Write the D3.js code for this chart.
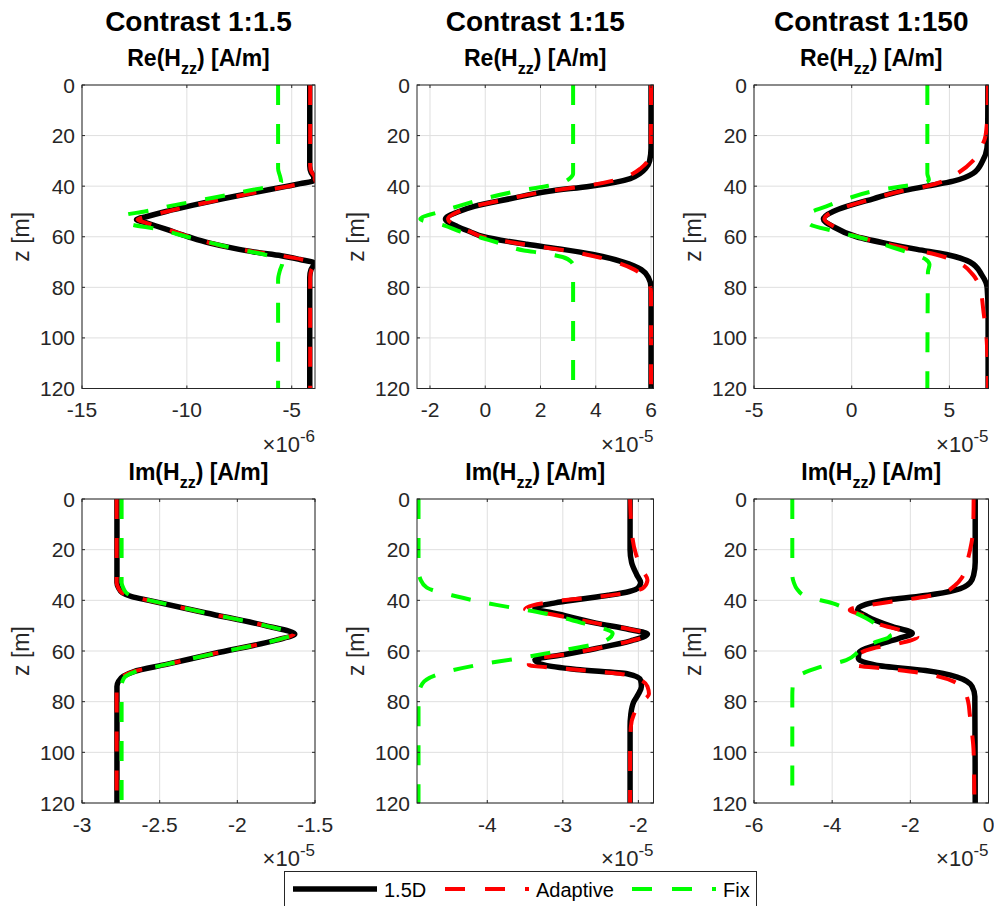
<!DOCTYPE html>
<html>
<head>
<meta charset="utf-8">
<script src="https://cdn.jsdelivr.net/npm/d3@7"></script>
<style>
  body { margin: 0; background: #fff; }
  svg { font-family: "Liberation Sans", Arial, Helvetica, sans-serif; }
</style>
</head>
<body>
<div id="chart"></div>
<script>
// -------------------------------------------------------------------------
// Data

const columnTitles = ['Contrast 1:1.5', 'Contrast 1:15', 'Contrast 1:150'];
const rowParts = ['Re', 'Im'];
const seriesNames = ['1.5D', 'Adaptive', 'Fix'];
const depthTicks = [0, 20, 40, 60, 80, 100, 120];

// one entry per panel, Re row first then Im row
const xLimits = [[-15, -3.89], [-2.47, 6.09], [-5, 7], [-3, -1.5], [-4.93, -1.8], [-6, 0]];
const xTicks = [[-15, -10, -5], [-2, 0, 2, 4, 6], [-5, 0, 5], [-3, -2.5, -2, -1.5], [-4, -3, -2], [-6, -4, -2, 0]];
const xExponents = [-6, -5, -5, -5, -5, -5];

// curves as [z (m), value in units of 10^exponent]
const reA_15d = [[0, -4.14], [32, -4.14], [34.5, -4.08], [36.5, -3.95], [37.8, -3.95], [39, -4.6], [40, -5.2], [42.5, -6.8], [45, -8.3], [47.5, -9.7], [50, -11.0], [52, -11.9], [53.2, -12.4], [54.5, -11.93], [57, -11.0], [60, -9.93], [62.5, -8.9], [64.5, -7.8], [66, -6.8], [67.5, -5.5], [69, -4.6], [70.3, -3.95], [71.5, -3.98], [73, -4.08], [76, -4.14], [120, -4.14]];
const reA_adaptive = [[0, -4.12], [32, -4.12], [34.5, -4.05], [36.5, -3.9], [37.8, -3.92], [39, -4.5], [40, -5.15], [42.5, -6.75], [45, -8.25], [47.5, -9.65], [50, -10.95], [52, -11.9], [53.2, -12.35], [54.5, -11.95], [57, -10.95], [60, -9.9], [62.5, -8.85], [64.5, -7.8], [66, -6.75], [67.5, -5.5], [69, -4.5], [70.3, -3.9], [71.5, -3.95], [73, -4.06], [76, -4.12], [120, -4.12]];
const reA_fix = [[0, -5.65], [33, -5.65], [36, -5.56], [38.5, -5.5], [40, -6.0], [42, -7.2], [45, -9.0], [48, -10.9], [50, -12.0], [51.6, -13.0], [53, -12.9], [54.8, -12.75], [57, -11.4], [60, -10.0], [62.5, -8.8], [64.5, -7.8], [66, -6.9], [67.5, -6.1], [69, -5.6], [70.5, -5.45], [73, -5.55], [77, -5.65], [120, -5.65]];

const reB_15d = [[0, 6.0], [25, 6.0], [30, 5.95], [33, 5.8], [35, 5.6], [37, 5.25], [38.5, 4.7], [40, 3.8], [42, 2.3], [45, 0.9], [48, -0.4], [50, -0.95], [53, -1.44], [56, -1.0], [58, -0.55], [60, -0.06], [63, 1.5], [65, 2.8], [67, 3.9], [70, 5.0], [73, 5.65], [76, 5.9], [80, 6.0], [120, 6.0]];
const reB_adaptive = [[0, 6.0], [25, 5.99], [30, 5.88], [33, 5.62], [35, 5.35], [37, 4.9], [40, 3.6], [42, 2.25], [45, 0.85], [48, -0.42], [50, -0.95], [53, -1.35], [56, -1.0], [58, -0.55], [60, -0.1], [63, 1.4], [65, 2.65], [67, 3.65], [70, 4.7], [73, 5.4], [76, 5.75], [79, 5.95], [82, 6.0], [120, 6.0]];
const reB_fix = [[0, 3.18], [35, 3.18], [37, 3.05], [38.5, 2.8], [40, 2.2], [42, 1.15], [45, -0.05], [48, -1.0], [50, -1.6], [53, -2.35], [55.5, -1.5], [58, -0.9], [60.5, -0.12], [63, 0.66], [65.4, 1.4], [66.5, 2.1], [68, 2.8], [70, 3.12], [72, 3.2], [75, 3.18], [120, 3.18]];

const reC_15d = [[0, 6.97], [20, 6.96], [25, 6.92], [30, 6.7], [35, 6.2], [38, 5.2], [40, 3.85], [42, 2.5], [45, 1.1], [48, -0.25], [50, -0.95], [53, -1.45], [56, -0.95], [60, 0.25], [63, 2.0], [65, 3.35], [67, 4.85], [70, 6.05], [75, 6.65], [80, 6.93], [90, 6.98], [120, 6.98]];
const reC_adaptive = [[0, 6.97], [10, 6.95], [20, 6.85], [25, 6.6], [30, 6.2], [35, 5.4], [38, 4.7], [40, 3.85], [42, 2.5], [45, 1.1], [48, -0.25], [50, -0.95], [53, -1.4], [56, -0.9], [60, 0.3], [63, 1.9], [65, 3.0], [67, 4.3], [70, 5.4], [75, 6.2], [80, 6.55], [90, 6.75], [100, 6.9], [110, 6.95], [120, 6.97]];
const reC_fix = [[0, 3.87], [35, 3.87], [37.5, 3.95], [39, 3.5], [40, 2.6], [42, 1.1], [45, -0.25], [48, -1.3], [51.5, -2.3], [55, -2.15], [58, -0.75], [61, 0.75], [64, 2.0], [67, 3.2], [69, 3.8], [71, 3.98], [74, 3.9], [120, 3.87]];

const imD_15d = [[0, -2.775], [33, -2.775], [35, -2.765], [37, -2.74], [38.5, -2.68], [40, -2.57], [45, -2.2], [50, -1.82], [53.3, -1.63], [55.7, -1.75], [61, -2.15], [65.2, -2.45], [68.2, -2.67], [70, -2.735], [72, -2.765], [74, -2.775], [120, -2.775]];
const imD_adaptive = [[0, -2.777], [33, -2.777], [35, -2.767], [37, -2.742], [38.5, -2.682], [40, -2.572], [45, -2.2], [50, -1.82], [53.3, -1.635], [55.7, -1.75], [61, -2.15], [65.2, -2.45], [68.2, -2.672], [70, -2.737], [72, -2.767], [74, -2.777], [120, -2.777]];
const imD_fix = [[0, -2.745], [33, -2.745], [35, -2.735], [37, -2.715], [38.5, -2.67], [40, -2.565], [45, -2.2], [50, -1.82], [53.3, -1.64], [55.7, -1.75], [61, -2.15], [65.2, -2.45], [68.2, -2.66], [70, -2.72], [72, -2.74], [74, -2.745], [120, -2.745]];

const imE_15d = [[0, -2.11], [20, -2.11], [25, -2.09], [30, -2.02], [33, -1.97], [35, -2.0], [36.5, -2.12], [38, -2.4], [39.5, -2.75], [41, -3.1], [43, -3.37], [45.5, -3.05], [49, -2.56], [51.5, -2.12], [53.3, -1.88], [56, -2.1], [59, -2.56], [61.5, -3.0], [63.5, -3.37], [65.5, -3.25], [67.3, -2.82], [69, -2.15], [71.5, -1.97], [74, -1.96], [77, -2.0], [80, -2.06], [85, -2.1], [90, -2.11], [120, -2.11]];
const imE_adaptive = [[0, -2.11], [15, -2.08], [22, -2.03], [28, -1.95], [32, -1.88], [35, -1.93], [37, -2.15], [38.5, -2.5], [40, -3.0], [42, -3.4], [43.5, -3.5], [45.5, -3.15], [49, -2.56], [51.5, -2.1], [53.5, -1.86], [56, -2.1], [59, -2.56], [61.5, -3.0], [63.5, -3.45], [65.5, -3.45], [67.3, -2.85], [69, -2.25], [71, -2.0], [74, -1.88], [77, -1.86], [80, -1.95], [85, -2.06], [90, -2.1], [100, -2.11], [120, -2.11]];
const imE_fix = [[0, -4.91], [28, -4.91], [32, -4.88], [35, -4.8], [38.5, -4.4], [41.8, -3.88], [44.5, -3.35], [49, -2.74], [53, -2.34], [56.4, -2.47], [59.7, -3.0], [63, -3.61], [65.6, -4.14], [68.9, -4.62], [72.9, -4.86], [78, -4.91], [120, -4.91]];

const imF_15d = [[0, -0.34], [25, -0.34], [30, -0.38], [33, -0.47], [36, -0.85], [38, -1.55], [39.6, -2.46], [41.6, -3.14], [43.7, -3.35], [46.4, -3.1], [50.4, -2.46], [53, -1.95], [55, -2.29], [57.7, -2.88], [60.3, -3.3], [63, -3.33], [65.6, -2.88], [67.7, -1.61], [70.3, -0.8], [74, -0.42], [78, -0.35], [120, -0.34]];
const imF_adaptive = [[0, -0.38], [10, -0.39], [16, -0.42], [20, -0.47], [25, -0.55], [31, -0.68], [34, -0.85], [36.5, -1.1], [38.5, -1.6], [40.5, -2.46], [42.5, -3.3], [43.8, -3.55], [46, -3.2], [49, -2.88], [52.4, -2.12], [54.4, -1.82], [57, -2.29], [59, -2.97], [61, -3.3], [63.5, -3.42], [65.6, -3.39], [67, -2.6], [68.5, -1.8], [70, -1.3], [72, -0.9], [76, -0.62], [80, -0.52], [85, -0.48], [90, -0.44], [100, -0.38], [120, -0.36]];
const imF_fix = [[0, -5.02], [30, -5.02], [33, -4.98], [35.5, -4.9], [38.5, -4.66], [41.2, -3.98], [44, -3.55], [47, -3.14], [51, -2.75], [54.2, -2.52], [56.4, -2.88], [60, -3.3], [63.6, -3.64], [66.4, -4.32], [69.5, -4.83], [72.2, -5.0], [78, -5.02], [120, -5.02]];

const panelCurves = [
  [reA_15d, reA_adaptive, reA_fix],
  [reB_15d, reB_adaptive, reB_fix],
  [reC_15d, reC_adaptive, reC_fix],
  [imD_15d, imD_adaptive, imD_fix],
  [imE_15d, imE_adaptive, imE_fix],
  [imF_15d, imF_adaptive, imF_fix]
];

// -------------------------------------------------------------------------
// Layout / styles

const width = 994;
const height = 906;
const colBounds = [[82, 315], [417, 653.5], [754, 988.5]];
const rowBounds = [[85, 388.5], [499, 803]];
const lineColors = ['#000000', '#ff0000', '#00ff00'];
const lineWidths = [5.5, 4, 4];
const lineDashes = [null, '20,19', '20,19'];
const axisColor = '#262626';
const gridColor = '#dfdfdf';
const tickLen = 3;
const fmt = d => String(d);

const svg = d3.select('#chart')
  .append('svg')
  .attr('width', width)
  .attr('height', height);

// column titles
columnTitles.forEach((t, c) => {
  svg.append('text')
    .attr('x', (colBounds[c][0] + colBounds[c][1]) / 2)
    .attr('y', 31)
    .attr('text-anchor', 'middle')
    .attr('font-size', 28)
    .attr('font-weight', 'bold')
    .attr('fill', '#000')
    .text(t);
});

panelCurves.forEach((curves, i) => {
  const row = Math.floor(i / 3);
  const col = i % 3;
  const [x0, x1] = colBounds[col];
  const [y0, y1] = rowBounds[row];

  const x = d3.scaleLinear().domain(xLimits[i]).range([x0, x1]);
  const y = d3.scaleLinear().domain([0, 120]).range([y0, y1]);

  const g = svg.append('g').attr('class', 'panel');

  // grid
  g.selectAll('.vgrid')
    .data(xTicks[i])
    .enter()
    .append('line')
    .attr('x1', d => x(d)).attr('x2', d => x(d))
    .attr('y1', y0).attr('y2', y1)
    .attr('stroke', gridColor).attr('stroke-width', 1);
  g.selectAll('.hgrid')
    .data(depthTicks)
    .enter()
    .append('line')
    .attr('x1', x0).attr('x2', x1)
    .attr('y1', d => y(d)).attr('y2', d => y(d))
    .attr('stroke', gridColor).attr('stroke-width', 1);

  // curves
  const clipId = `clip-${i}`;
  svg.append('clipPath').attr('id', clipId)
    .append('rect')
    .attr('x', x0).attr('y', y0)
    .attr('width', x1 - x0).attr('height', y1 - y0);

  const line = d3.line()
    .x(d => x(d[1]))
    .y(d => y(d[0]))
    .curve(d3.curveMonotoneY);

  curves.forEach((data, s) => {
    g.append('path')
      .datum(data)
      .attr('clip-path', `url(#${clipId})`)
      .attr('d', line)
      .attr('fill', 'none')
      .attr('stroke', lineColors[s])
      .attr('stroke-width', lineWidths[s])
      .attr('stroke-dasharray', lineDashes[s]);
  });

  // box
  g.append('rect')
    .attr('x', x0).attr('y', y0)
    .attr('width', x1 - x0).attr('height', y1 - y0)
    .attr('fill', 'none')
    .attr('stroke', axisColor)
    .attr('stroke-width', 1);

  // inward ticks
  xTicks[i].forEach(t => {
    g.append('line').attr('x1', x(t)).attr('x2', x(t)).attr('y1', y1).attr('y2', y1 - tickLen).attr('stroke', axisColor);
    g.append('line').attr('x1', x(t)).attr('x2', x(t)).attr('y1', y0).attr('y2', y0 + tickLen).attr('stroke', axisColor);
  });
  depthTicks.forEach(t => {
    g.append('line').attr('x1', x0).attr('x2', x0 + tickLen).attr('y1', y(t)).attr('y2', y(t)).attr('stroke', axisColor);
    g.append('line').attr('x1', x1).attr('x2', x1 - tickLen).attr('y1', y(t)).attr('y2', y(t)).attr('stroke', axisColor);
  });

  // tick labels
  g.selectAll('.xlab')
    .data(xTicks[i])
    .enter()
    .append('text')
    .attr('x', d => x(d))
    .attr('y', y1 + 28.5)
    .attr('text-anchor', 'middle')
    .attr('font-size', 21)
    .attr('fill', axisColor)
    .text(fmt);
  g.selectAll('.ylab')
    .data(depthTicks)
    .enter()
    .append('text')
    .attr('x', x0 - 7)
    .attr('y', d => y(d) + 7.5)
    .attr('text-anchor', 'end')
    .attr('font-size', 21)
    .attr('fill', axisColor)
    .text(fmt);

  // exponent
  const ex = g.append('text')
    .attr('x', x1)
    .attr('y', y1 + 63)
    .attr('text-anchor', 'end')
    .attr('font-size', 22)
    .attr('fill', axisColor);
  ex.append('tspan').text('\u00d710');
  ex.append('tspan').attr('dy', -10).attr('font-size', 17).text(String(xExponents[i]));

  // y label
  g.append('text')
    .attr('transform', `translate(${x0 - 53},${(y0 + y1) / 2}) rotate(-90)`)
    .attr('text-anchor', 'middle')
    .attr('font-size', 23)
    .attr('fill', axisColor)
    .text('z [m]');

  // subplot title
  const st = g.append('text')
    .attr('x', (x0 + x1) / 2)
    .attr('y', y0 - 19)
    .attr('text-anchor', 'middle')
    .attr('font-size', 23)
    .attr('font-weight', 'bold')
    .attr('fill', '#000');
  st.append('tspan').text(`${rowParts[row]}(H`);
  st.append('tspan').attr('dy', 8).attr('font-size', 16).text('zz');
  st.append('tspan').attr('dy', -8).text(') [A/m]');
});

// legend
const legend = svg.append('g').attr('class', 'legend');
legend.append('rect')
  .attr('x', 284.5).attr('y', 871.5)
  .attr('width', 472).attr('height', 40)
  .attr('fill', '#fff')
  .attr('stroke', axisColor)
  .attr('stroke-width', 1);

const legendX = [293, 445, 632];
seriesNames.forEach((name, s) => {
  legend.append('line')
    .attr('x1', legendX[s]).attr('x2', legendX[s] + 84)
    .attr('y1', 889).attr('y2', 889)
    .attr('stroke', lineColors[s])
    .attr('stroke-width', lineWidths[s])
    .attr('stroke-dasharray', s ? '20,20' : null);
  legend.append('text')
    .attr('x', legendX[s] + 91)
    .attr('y', 896.5)
    .attr('font-size', 20)
    .attr('fill', '#000')
    .text(name);
});
</script>
</body>
</html>
